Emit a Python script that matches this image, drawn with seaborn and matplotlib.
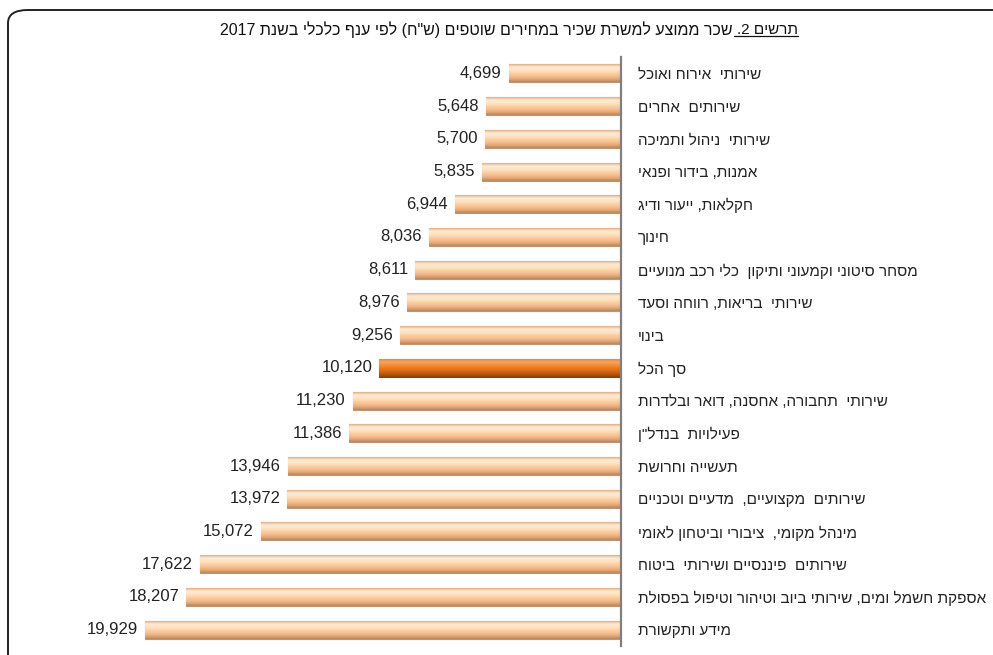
import numpy as np
import pandas as pd
import matplotlib.pyplot as plt
import seaborn as sns
from matplotlib.patches import FancyBboxPatch
from matplotlib.lines import Line2D

sectors = [
    'שירותי  אירוח ואוכל',
    'שירותים  אחרים',
    'שירותי  ניהול ותמיכה',
    'אמנות, בידור ופנאי',
    'חקלאות, ייעור ודיג',
    'חינוך',
    'מסחר סיטוני וקמעוני ותיקון  כלי רכב מנועיים',
    'שירותי  בריאות, רווחה וסעד',
    'בינוי',
    'סך הכל',
    'שירותי  תחבורה, אחסנה, דואר ובלדרות',
    'פעילויות  בנדל"ן',
    'תעשייה וחרושת',
    'שירותים  מקצועיים,  מדעיים וטכניים',
    'מינהל מקומי,  ציבורי וביטחון לאומי',
    'שירותים  פיננסיים ושירותי  ביטוח',
    'אספקת חשמל ומים, שירותי ביוב וטיהור וטיפול בפסולת',
    'מידע ותקשורת',
]
wages = [4699, 5648, 5700, 5835, 6944, 8036, 8611, 8976, 9256, 10120,
         11230, 11386, 13946, 13972, 15072, 17622, 18207, 19929]
highlight = 'סך הכל'

title_main = 'שכר ממוצע למשרת שכיר במחירים שוטפים (ש"ח) לפי ענף כלכלי בשנת 2017'
title_lead = 'תרשים 2.'


def vis(s):
    # matplotlib has no bidi support: build the visual (left-to-right) order
    mirror = {'(': ')', ')': '('}
    out = []
    run = ''
    for ch in reversed(s):
        if ch.isdigit() or ch == ',' and run:
            run = ch + run
        else:
            if run:
                out.append(run)
                run = ''
            out.append(mirror.get(ch, ch))
    if run:
        out.append(run)
    return ''.join(out)


df = pd.DataFrame({'sector': sectors, 'wage': wages})
df['label'] = df['sector'].map(vis)

sns.set_style('white')
plt.rcParams['font.family'] = ['Liberation Sans', 'DejaVu Sans']

fig = plt.figure(figsize=(9.93, 6.55), dpi=100)
ax = fig.add_axes([20 / 993, 9 / 655, 601 / 993, 589 / 655])

colors = ['#EE7A1E' if s == highlight else '#FACB9C' for s in df['sector']]
sns.barplot(data=df, x='wage', y='label', hue='label', palette=colors,
            orient='h', width=0.55, legend=False, ax=ax)

scale = 476 / 19929
grad_normal = ['#E2B08A', '#FFEBD2', '#FFE4C4', '#FCD2A6', '#F6C092', '#E3A878', '#B8875F']
grad_high = ['#E98A44', '#F6A45C', '#F2903A', '#EE7A1E', '#DC6812', '#BA560C', '#8A440A']

for patch, sec in zip(ax.patches, df['sector']):
    stops = grad_high if sec == highlight else grad_normal
    rgb = np.array([plt.matplotlib.colors.to_rgb(c) for c in stops])
    t = np.linspace(0, 1, 64)
    pos = np.linspace(0, 1, len(stops))
    img = np.stack([np.interp(t, pos, rgb[:, k]) for k in range(3)], axis=1)[:, None, :]
    x0, y0 = patch.get_x(), patch.get_y()
    w, h = patch.get_width(), patch.get_height()
    im = ax.imshow(img, extent=(x0, x0 + w, y0 + h, y0), origin='upper',
                   aspect='auto', zorder=patch.get_zorder() + 0.1)
    im.set_clip_path(patch)
    patch.set_edgecolor('#C09570' if sec != highlight else '#8A420C')
    patch.set_linewidth(0.8)

ax.set_xlim(601 / scale, 0)
ax.set_ylim(len(df) - 0.5, -0.5)

for i, v in enumerate(df['wage']):
    ax.annotate(f'{v:,}', xy=(v, i), xytext=(-5, 0), textcoords='offset points',
                ha='right', va='center', fontsize=12, color='#222222')

ax.yaxis.tick_right()
ax.tick_params(axis='y', length=0, pad=12, labelsize=11, labelcolor='#222222')
for lab in ax.get_yticklabels():
    lab.set_horizontalalignment('left')
ax.set_xticks([])
ax.set_xlabel('')
ax.set_ylabel('')
for side in ['top', 'left', 'bottom']:
    ax.spines[side].set_visible(False)
ax.spines['right'].set_color('#808080')
ax.spines['right'].set_linewidth(1.6)
ax.patch.set_alpha(0)

frame = FancyBboxPatch((8 / 993, -40 / 655), 1.2, (40 + 645) / 655,
                       boxstyle='round,pad=0,rounding_size=0.02',
                       transform=fig.transFigure, fill=False,
                       edgecolor='#222222', linewidth=1.4, zorder=0)
fig.patches.append(frame)

split = 733 / 993
t1 = fig.text(split, 1 - 30 / 655, vis(title_main), ha='right', va='center',
              fontsize=11.5, color='#111111')
t2 = fig.text(split + 4 / 993, 1 - 30 / 655, vis(title_lead), ha='left', va='center',
              fontsize=11, color='#111111')
fig.canvas.draw()
bb = t2.get_window_extent().transformed(fig.transFigure.inverted())
fig.add_artist(Line2D([bb.x0 - 3 / 993, bb.x1], [bb.y0 + 1 / 655, bb.y0 + 1 / 655],
                      transform=fig.transFigure, color='#111111', linewidth=0.9))

fig.savefig('out.png', dpi=100)
